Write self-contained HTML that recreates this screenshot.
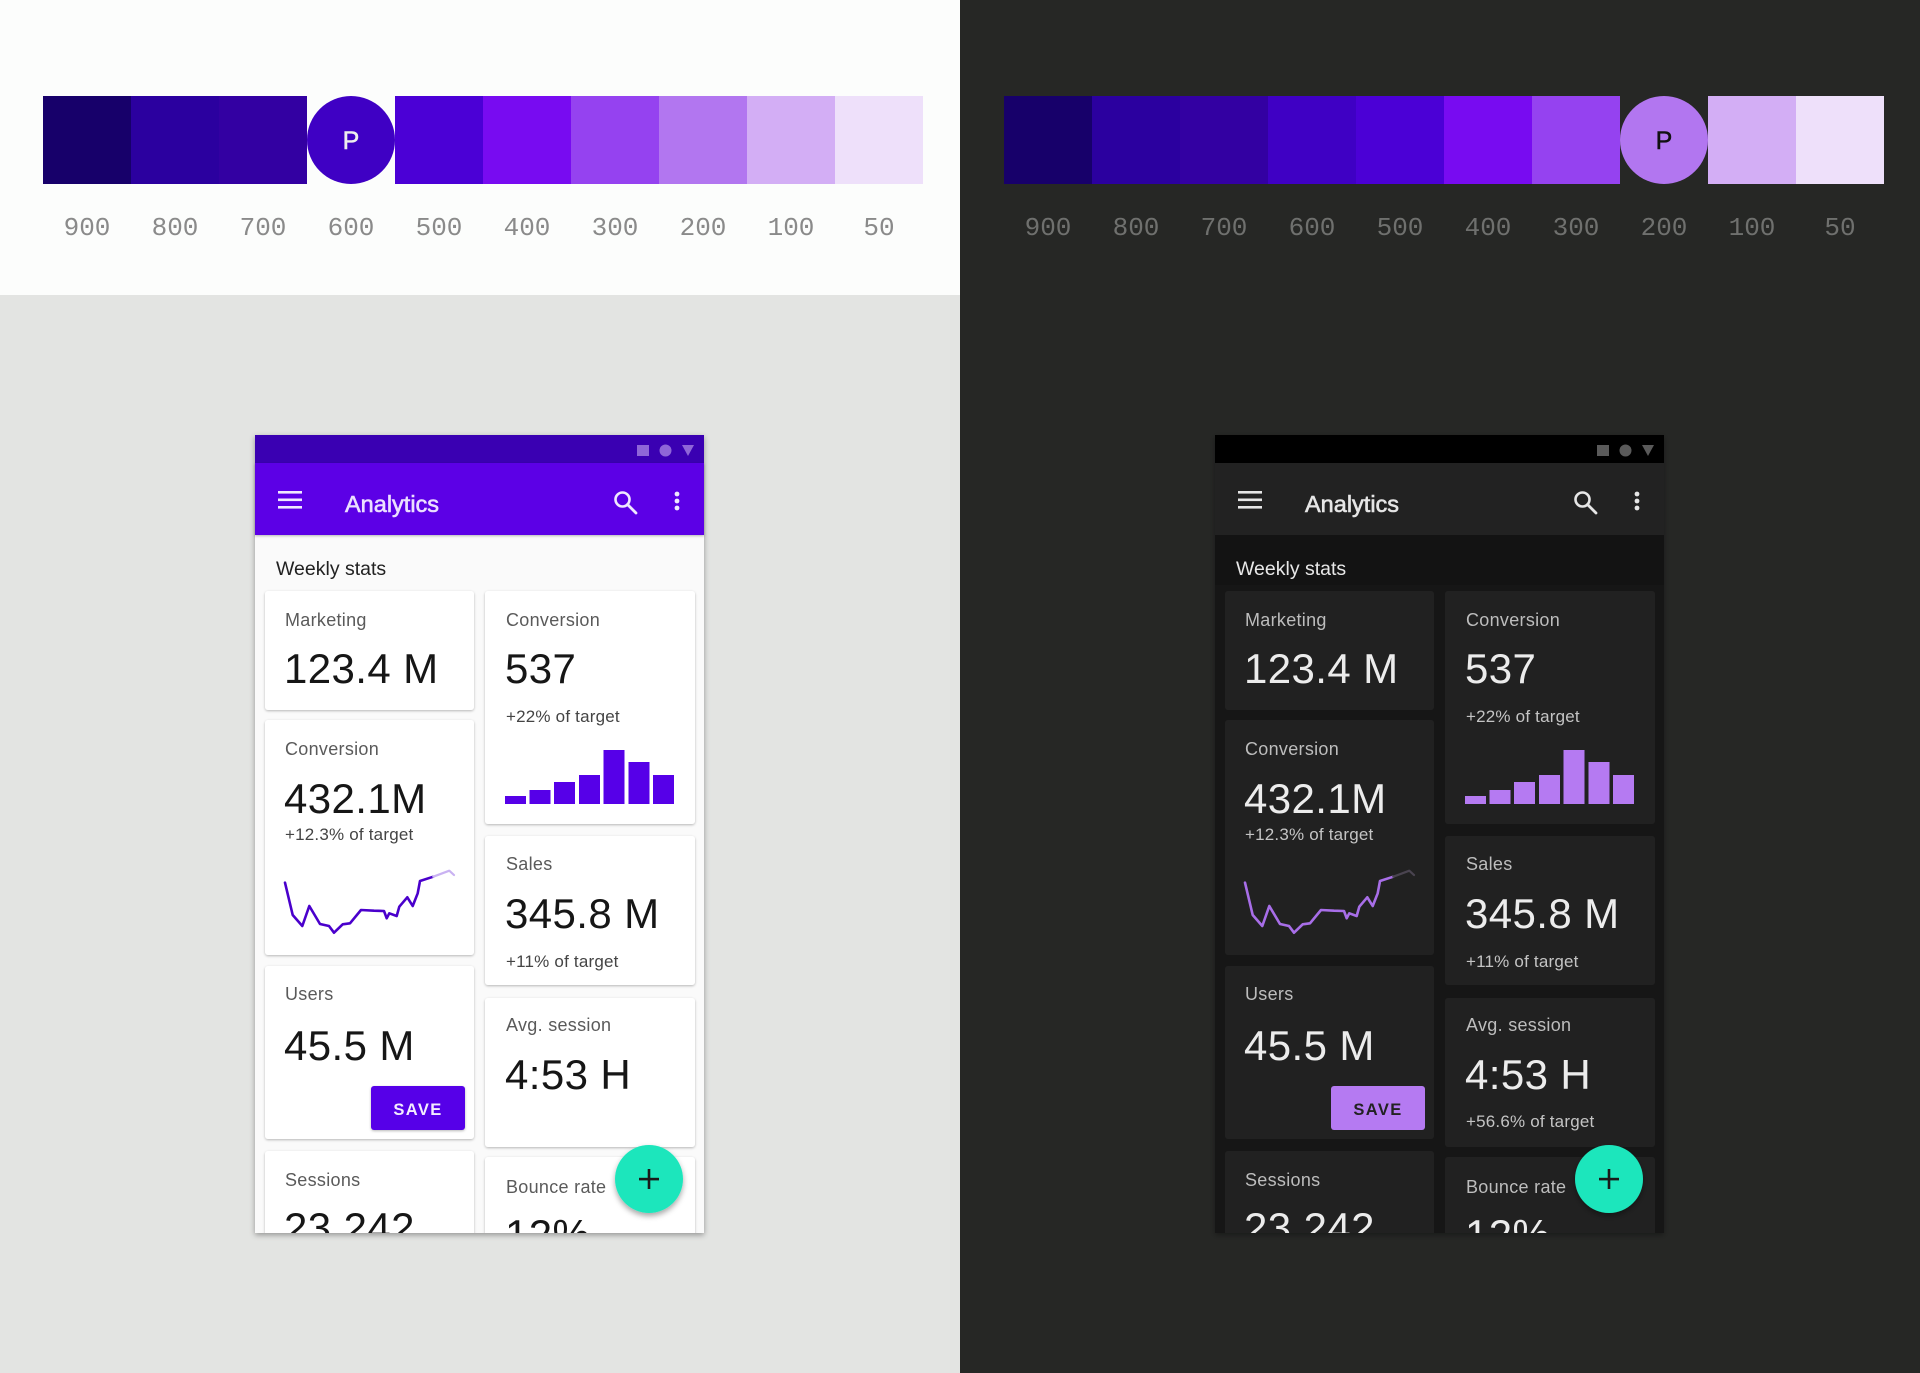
<!DOCTYPE html>
<html>
<head>
<meta charset="utf-8">
<style>
html,body{margin:0;padding:0;background:#262725;}
svg{display:block;}
</style>
</head>
<body>
<svg width="1920" height="1373" viewBox="0 0 1920 1373" xmlns="http://www.w3.org/2000/svg" font-family="Liberation Sans, Arial, sans-serif">
<defs>
  <filter id="phsh" x="-10%" y="-10%" width="120%" height="120%">
    <feDropShadow dx="0" dy="2" stdDeviation="3" flood-color="#000" flood-opacity="0.35"/>
  </filter>
  <filter id="cdsh" x="-10%" y="-10%" width="120%" height="120%">
    <feDropShadow dx="0" dy="1" stdDeviation="1.4" flood-color="#000" flood-opacity="0.28"/>
  </filter>
  <filter id="fabsh" x="-30%" y="-30%" width="160%" height="160%">
    <feDropShadow dx="0" dy="3" stdDeviation="3" flood-color="#000" flood-opacity="0.35"/>
  </filter>
  <clipPath id="pclip"><rect x="255" y="535" width="449" height="698"/></clipPath>
</defs>

<!-- backgrounds -->
<rect x="0" y="0" width="960" height="295" fill="#fcfdfc"/>
<rect x="0" y="295" width="960" height="1078" fill="#e3e4e2"/>
<rect x="960" y="0" width="960" height="1373" fill="#262725"/>

<!-- light palette -->
<rect x="43" y="96" width="88" height="88" fill="#17006a"/>
<rect x="131" y="96" width="88" height="88" fill="#2b009f"/>
<rect x="219" y="96" width="88" height="88" fill="#3300a2"/>
<circle cx="351" cy="140" r="44" fill="#3f00c4"/>
<text x="351" y="149" font-size="25" fill="#eeeeee" stroke="#eeeeee" stroke-width="0.5" text-anchor="middle">P</text>
<rect x="395" y="96" width="88" height="88" fill="#4b00d6"/>
<rect x="483" y="96" width="88" height="88" fill="#780bf1"/>
<rect x="571" y="96" width="88" height="88" fill="#9542f0"/>
<rect x="659" y="96" width="88" height="88" fill="#b276f0"/>
<rect x="747" y="96" width="88" height="88" fill="#d3aef5"/>
<rect x="835" y="96" width="88" height="88" fill="#eee0fa"/>
<g font-family="Liberation Mono, DejaVu Sans Mono, monospace" font-size="26" fill="#8a8a8a" text-anchor="middle">
  <text x="87" y="235">900</text>
  <text x="175" y="235">800</text>
  <text x="263" y="235">700</text>
  <text x="351" y="235">600</text>
  <text x="439" y="235">500</text>
  <text x="527" y="235">400</text>
  <text x="615" y="235">300</text>
  <text x="703" y="235">200</text>
  <text x="791" y="235">100</text>
  <text x="879" y="235">50</text>
</g>

<!-- dark palette -->
<g transform="translate(961,0)">
<rect x="43" y="96" width="88" height="88" fill="#17006a"/>
<rect x="131" y="96" width="88" height="88" fill="#2b009f"/>
<rect x="219" y="96" width="88" height="88" fill="#3300a2"/>
<rect x="307" y="96" width="88" height="88" fill="#3f00c4"/>
<rect x="395" y="96" width="88" height="88" fill="#4b00d6"/>
<rect x="483" y="96" width="88" height="88" fill="#780bf1"/>
<rect x="571" y="96" width="88" height="88" fill="#9542f0"/>
<circle cx="703" cy="140" r="44" fill="#b276f0"/>
<text x="703" y="149" font-size="25" fill="#111111" stroke="#111111" stroke-width="0.5" text-anchor="middle">P</text>
<rect x="747" y="96" width="88" height="88" fill="#d3aef5"/>
<rect x="835" y="96" width="88" height="88" fill="#eee0fa"/>
<g font-family="Liberation Mono, DejaVu Sans Mono, monospace" font-size="26" fill="#6f706e" text-anchor="middle">
  <text x="87" y="235">900</text>
  <text x="175" y="235">800</text>
  <text x="263" y="235">700</text>
  <text x="351" y="235">600</text>
  <text x="439" y="235">500</text>
  <text x="527" y="235">400</text>
  <text x="615" y="235">300</text>
  <text x="703" y="235">200</text>
  <text x="791" y="235">100</text>
  <text x="879" y="235">50</text>
</g>
</g>

<!-- ================= LIGHT PHONE ================= -->
<g>
  <rect x="255" y="435" width="449" height="798" fill="#fafafa" filter="url(#phsh)"/>
  <rect x="255" y="435" width="449" height="28" fill="#3a00b2"/>
  <rect x="637" y="445" width="12" height="11" fill="#8f66d8"/>
  <circle cx="665.5" cy="450.5" r="6" fill="#8f66d8"/>
  <polygon points="682,445 694,445 688,456" fill="#8f66d8"/>
  <rect x="255" y="463" width="449" height="72" fill="#5c00e6" filter="url(#cdsh)"/>
  <rect x="278" y="491" width="24" height="2.6" fill="#f0e8ff"/>
  <rect x="278" y="498.5" width="24" height="2.6" fill="#f0e8ff"/>
  <rect x="278" y="506" width="24" height="2.6" fill="#f0e8ff"/>
  <text x="345" y="512" font-size="23.5" fill="#ecdfff" stroke="#ecdfff" stroke-width="0.6">Analytics</text>
  <circle cx="622.5" cy="499.5" r="7" fill="none" stroke="#f0e8ff" stroke-width="2.6"/>
  <line x1="627.5" y1="504.5" x2="636" y2="513" stroke="#f0e8ff" stroke-width="2.8" stroke-linecap="round"/>
  <circle cx="677" cy="494" r="2.4" fill="#f0e8ff"/>
  <circle cx="677" cy="501" r="2.4" fill="#f0e8ff"/>
  <circle cx="677" cy="508" r="2.4" fill="#f0e8ff"/>

  <g clip-path="url(#pclip)">
    <text x="276" y="575" font-size="19.5" fill="#212121">Weekly stats</text>
    <g fill="#ffffff" filter="url(#cdsh)">
      <rect x="265" y="591" width="209" height="119" rx="3"/>
      <rect x="265" y="720" width="209" height="235" rx="3"/>
      <rect x="265" y="966" width="209" height="173" rx="3"/>
      <rect x="265" y="1151" width="209" height="120" rx="3"/>
      <rect x="485" y="591" width="210" height="233" rx="3"/>
      <rect x="485" y="836" width="210" height="149" rx="3"/>
      <rect x="485" y="998" width="210" height="149" rx="3"/>
      <rect x="485" y="1157" width="210" height="120" rx="3"/>
    </g>
    <g font-size="18" fill="#5a5a5a" letter-spacing="0.3">
      <text x="285" y="626">Marketing</text>
      <text x="506" y="626">Conversion</text>
      <text x="285" y="755">Conversion</text>
      <text x="285" y="1000">Users</text>
      <text x="285" y="1186">Sessions</text>
      <text x="506" y="870">Sales</text>
      <text x="506" y="1031">Avg. session</text>
      <text x="506" y="1193">Bounce rate</text>
    </g>
    <g font-size="42" fill="#161616" letter-spacing="0.4">
      <text x="284" y="683">123.4 M</text>
      <text x="505" y="683">537</text>
      <text x="284" y="813">432.1M</text>
      <text x="284" y="1060">45.5 M</text>
      <text x="284" y="1242">23,242</text>
      <text x="505" y="928">345.8 M</text>
      <text x="505" y="1089">4:53 H</text>
      <text x="505" y="1249">12%</text>
    </g>
    <g font-size="17" fill="#444444" letter-spacing="0.2">
      <text x="506" y="722">+22% of target</text>
      <text x="285" y="840">+12.3% of target</text>
      <text x="506" y="967">+11% of target</text>
    </g>
    <g fill="#5600e8">
      <rect x="505" y="796" width="21" height="8"/>
      <rect x="529.5" y="790" width="21" height="14"/>
      <rect x="554" y="782" width="21" height="22"/>
      <rect x="579" y="775" width="21" height="29"/>
      <rect x="603.5" y="750" width="21" height="54"/>
      <rect x="628.5" y="762" width="21" height="42"/>
      <rect x="653" y="775" width="21" height="29"/>
    </g>
    <polyline fill="none" stroke="#4a00cc" stroke-width="2.6" stroke-linejoin="round" stroke-linecap="round"
      points="285,882.7 292.7,915 302.3,926 309.3,906 320,924 329,926 334,932.7 342.7,924.3 350,923.3 361,910 374,910.7 384,911 386.7,918.3 389.3,913.3 396.7,916 399.3,906.7 407.3,897.3 412.7,906 417.7,893.3 420,881 433.3,876.7"/>
    <polyline fill="none" stroke="#c9b2f2" stroke-width="2.2" stroke-linejoin="round" stroke-linecap="round"
      points="433.3,876.7 449.3,870.7 454,875"/>
    <rect x="371" y="1086" width="94" height="44" rx="3" fill="#5600e8" filter="url(#cdsh)"/>
    <text x="418" y="1115" font-size="16.5" font-weight="bold" fill="#f3ecff" text-anchor="middle" letter-spacing="1.4">SAVE</text>
  </g>
  <circle cx="649" cy="1179" r="34" fill="#1fe6bc" filter="url(#fabsh)"/>
  <rect x="639" y="1177.8" width="20" height="2.6" fill="#1a1a1a"/>
  <rect x="647.7" y="1169" width="2.6" height="20" fill="#1a1a1a"/>
</g>

<!-- ================= DARK PHONE ================= -->
<g transform="translate(960,0)">
  <rect x="255" y="435" width="449" height="798" fill="#161616" filter="url(#phsh)"/>
  <rect x="255" y="435" width="449" height="28" fill="#000000"/>
  <rect x="637" y="445" width="12" height="11" fill="#5a5a5a"/>
  <circle cx="665.5" cy="450.5" r="6" fill="#5a5a5a"/>
  <polygon points="682,445 694,445 688,456" fill="#5a5a5a"/>
  <rect x="255" y="463" width="449" height="72" fill="#222222"/>
  <rect x="278" y="491" width="24" height="2.6" fill="#e6e6e6"/>
  <rect x="278" y="498.5" width="24" height="2.6" fill="#e6e6e6"/>
  <rect x="278" y="506" width="24" height="2.6" fill="#e6e6e6"/>
  <text x="345" y="512" font-size="23.5" fill="#e6e6e6" stroke="#e6e6e6" stroke-width="0.6">Analytics</text>
  <circle cx="622.5" cy="499.5" r="7" fill="none" stroke="#e6e6e6" stroke-width="2.6"/>
  <line x1="627.5" y1="504.5" x2="636" y2="513" stroke="#e6e6e6" stroke-width="2.8" stroke-linecap="round"/>
  <circle cx="677" cy="494" r="2.4" fill="#e6e6e6"/>
  <circle cx="677" cy="501" r="2.4" fill="#e6e6e6"/>
  <circle cx="677" cy="508" r="2.4" fill="#e6e6e6"/>

  <g clip-path="url(#pclip)">
    <rect x="255" y="535" width="449" height="50" fill="#131313"/>
    <text x="276" y="575" font-size="19.5" fill="#e8e8e8">Weekly stats</text>
    <g fill="#212121">
      <rect x="265" y="591" width="209" height="119" rx="3"/>
      <rect x="265" y="720" width="209" height="235" rx="3"/>
      <rect x="265" y="966" width="209" height="173" rx="3"/>
      <rect x="265" y="1151" width="209" height="120" rx="3"/>
      <rect x="485" y="591" width="210" height="233" rx="3"/>
      <rect x="485" y="836" width="210" height="149" rx="3"/>
      <rect x="485" y="998" width="210" height="149" rx="3"/>
      <rect x="485" y="1157" width="210" height="120" rx="3"/>
    </g>
    <g font-size="18" fill="#bdbdbd" letter-spacing="0.3">
      <text x="285" y="626">Marketing</text>
      <text x="506" y="626">Conversion</text>
      <text x="285" y="755">Conversion</text>
      <text x="285" y="1000">Users</text>
      <text x="285" y="1186">Sessions</text>
      <text x="506" y="870">Sales</text>
      <text x="506" y="1031">Avg. session</text>
      <text x="506" y="1193">Bounce rate</text>
    </g>
    <g font-size="42" fill="#ececec" letter-spacing="0.4">
      <text x="284" y="683">123.4 M</text>
      <text x="505" y="683">537</text>
      <text x="284" y="813">432.1M</text>
      <text x="284" y="1060">45.5 M</text>
      <text x="284" y="1242">23,242</text>
      <text x="505" y="928">345.8 M</text>
      <text x="505" y="1089">4:53 H</text>
      <text x="505" y="1249">12%</text>
    </g>
    <g font-size="17" fill="#c4c4c4" letter-spacing="0.2">
      <text x="506" y="722">+22% of target</text>
      <text x="285" y="840">+12.3% of target</text>
      <text x="506" y="967">+11% of target</text>
      <text x="506" y="1127">+56.6% of target</text>
    </g>
    <g fill="#b57af2">
      <rect x="505" y="796" width="21" height="8"/>
      <rect x="529.5" y="790" width="21" height="14"/>
      <rect x="554" y="782" width="21" height="22"/>
      <rect x="579" y="775" width="21" height="29"/>
      <rect x="603.5" y="750" width="21" height="54"/>
      <rect x="628.5" y="762" width="21" height="42"/>
      <rect x="653" y="775" width="21" height="29"/>
    </g>
    <polyline fill="none" stroke="#a86ee8" stroke-width="2.6" stroke-linejoin="round" stroke-linecap="round"
      points="285,882.7 292.7,915 302.3,926 309.3,906 320,924 329,926 334,932.7 342.7,924.3 350,923.3 361,910 374,910.7 384,911 386.7,918.3 389.3,913.3 396.7,916 399.3,906.7 407.3,897.3 412.7,906 417.7,893.3 420,881 433.3,876.7"/>
    <polyline fill="none" stroke="#4a4450" stroke-width="2.2" stroke-linejoin="round" stroke-linecap="round"
      points="433.3,876.7 449.3,870.7 454,875"/>
    <rect x="371" y="1086" width="94" height="44" rx="3" fill="#b57af2"/>
    <text x="418" y="1115" font-size="16.5" font-weight="bold" fill="#222222" text-anchor="middle" letter-spacing="1.4">SAVE</text>
  </g>
  <circle cx="649" cy="1179" r="34" fill="#1fe6bc" filter="url(#fabsh)"/>
  <rect x="639" y="1177.8" width="20" height="2.6" fill="#1a1a1a"/>
  <rect x="647.7" y="1169" width="2.6" height="20" fill="#1a1a1a"/>
</g>
</svg>
</body>
</html>
